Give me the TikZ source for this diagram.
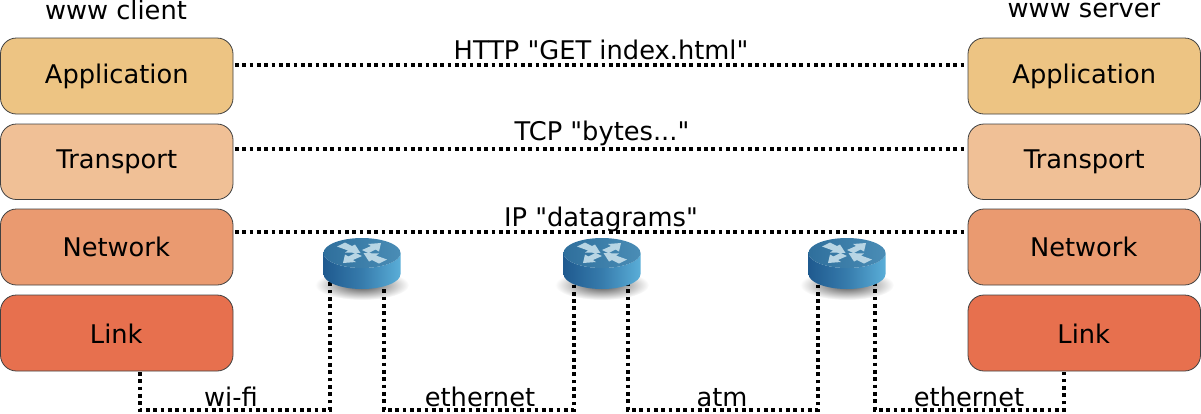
\documentclass[tikz,border=0pt]{standalone}
\usepackage{fontspec}
\newfontfamily\dvfont{DejaVu Sans}
\definecolor{appc}{HTML}{EDC483}
\definecolor{trac}{HTML}{F0C096}
\definecolor{netc}{HTML}{EA9A70}
\definecolor{linc}{HTML}{E7704E}
\definecolor{rdark}{HTML}{1F5A8F}
\definecolor{rlight}{HTML}{5AAED8}
\definecolor{rtopa}{HTML}{2F6F9C}
\definecolor{rtopb}{HTML}{4A8DB6}
\definecolor{rarrow}{HTML}{B8D5E4}
\tikzset{
  layerbox/.style={draw=black!75,line width=0.8pt,rounded corners=16pt,minimum width=232.5pt,minimum height=76pt,inner sep=0pt,font=\dvfont\fontsize{25.7pt}{30pt}\selectfont,text height=14pt,text depth=0pt,anchor=center},
  lbl/.style={font=\dvfont\fontsize{25.7pt}{30pt}\selectfont,anchor=base,inner sep=0pt},
  dots/.style={line width=4pt,dash pattern=on 3.7pt off 3.63pt},
  routershadow/.pic={\shade[inner color=black!70,outer color=white] (0,32) ellipse [x radius=47,y radius=15];},
  router/.pic={
    \shade[left color=rdark,right color=rlight,middle color=rdark!60!rlight] (-38.5,0) -- (-38.5,21) arc[start angle=180,end angle=0,x radius=38.5,y radius=15] -- (38.5,0) arc[start angle=0,end angle=180,x radius=38.5,y radius=15] -- cycle;
    \shade[left color=rtopa,right color=rtopb] (0,0) ellipse [x radius=38.5,y radius=15];
    \foreach \r in {0,180} {
      \begin{scope}[rotate=\r,yshift=-1pt]
        \fill[rarrow] (-25,-7.5) -- (-17,-11.5) -- (-10,-8) -- (-7,-9.5) -- (-1.5,-1) -- (-17,-1.5) -- (-14,-3.5) -- cycle;
        \fill[rarrow] (0,-4) -- (9,-8) -- (6,-10) -- (19,-11) -- (17,-2.5) -- (13.5,-4.5) -- (6.5,-.8) -- cycle;
      \end{scope}
    }
  }
}
\begin{document}
\begin{tikzpicture}[x=1pt,y=-1pt]
\useasboundingbox (0,0) rectangle (1201,413);
% layer boxes
\node[layerbox,fill=appc] (appL) at (116.75,76) {Application};
\node[layerbox,fill=trac,minimum height=75.5pt] (traL) at (116.75,161.75) {Transport};
\node[layerbox,fill=netc,text height=18pt] (netL) at (116.75,247) {\hspace{-1pt}Network};
\node[layerbox,fill=linc,text height=20pt] (linL) at (116.75,333) {\hspace{-1pt}Link};
\node[layerbox,fill=appc] (appR) at (1084.25,76) {Application};
\node[layerbox,fill=trac,minimum height=75.5pt] (traR) at (1084.25,161.75) {Transport};
\node[layerbox,fill=netc,text height=18pt] (netR) at (1084.25,247) {\hspace{-1pt}Network};
\node[layerbox,fill=linc,text height=20pt] (linR) at (1084.25,333) {\hspace{-1pt}Link};
% headings
\node[lbl] (hc) at (116,19.5) {www client};
\node[lbl] (hs) at (1084,17.5) {www server};
% peer lines
\coordinate (a1) at (235,65); \coordinate (a2) at (968,65);
\coordinate (t1) at (235,149); \coordinate (t2) at (968,149);
\coordinate (n1) at (235,232); \coordinate (n2) at (968,232);
\draw[dots] (a1) -- (a2);
\draw[dots] (t1) -- (t2);
\draw[dots] (n1) -- (n2);
\node[lbl] (lh) at (601,59) {HTTP "GET index.html"};
\node[lbl] (lt) at (602,140) {TCP "bytes..."};
\node[lbl] (li) at (601,226) {IP "datagrams"};
% router shadows
\pic at (362,253) {routershadow};
\pic at (602,253) {routershadow};
\pic at (847,253) {routershadow};
% link connectors
\coordinate (r1a) at (330,282); \coordinate (r1b) at (384,282);
\coordinate (r2a) at (574,282); \coordinate (r2b) at (628,282);
\coordinate (r3a) at (818,282); \coordinate (r3b) at (875,282);
\coordinate (cl) at (140,372); \coordinate (cr) at (1064,372);
\draw[dots] (cl) |- (330,410) -- (r1a);
\draw[dots] (r1b) |- (574,410) -- (r2a);
\draw[dots] (r2b) |- (818,410) -- (r3a);
\draw[dots] (r3b) |- (1064,410) -- (cr);
% routers
\pic at (362,253) {router};
\pic at (602,253) {router};
\pic at (847,253) {router};
% link labels
\node[lbl] (l1) at (231,406) {wi-fi};
\node[lbl] (l2) at (480,406) {ethernet};
\node[lbl] (l3) at (722,406) {atm};
\node[lbl] (l4) at (969,406) {ethernet};
\end{tikzpicture}
\end{document}
